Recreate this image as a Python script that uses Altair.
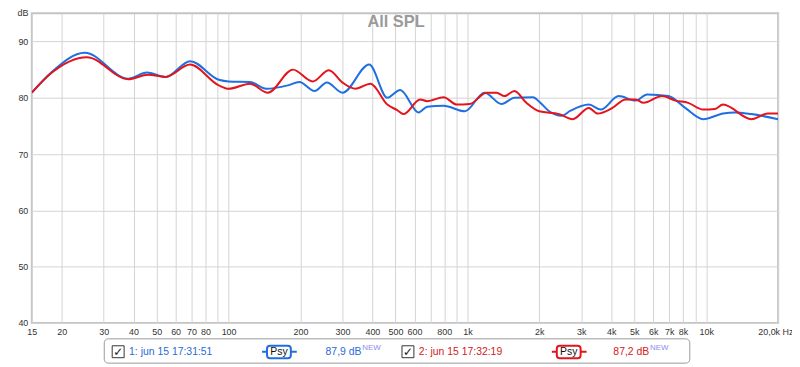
import altair as alt
import pandas as pd

# ---- data ----
blue_freq = [15, 18, 25, 38, 45.5, 54.5, 69, 91, 100, 123, 144, 177, 198, 229, 258, 300, 388, 462, 523, 625, 678,
             795, 975, 1180, 1389, 1574, 1883, 2000, 2200, 2480, 2700, 3227, 3620, 4302, 5062, 5661, 6941, 8168,
             9704, 11751, 13184, 15465, 20000]
blue_db = [80.9, 84.4, 88.0, 83.4, 84.5, 83.7, 86.5, 83.2, 82.9, 82.8, 81.6, 82.2, 82.8, 81.2, 82.7, 80.9, 85.9,
           80.0, 81.4, 77.4, 78.4, 78.6, 77.6, 80.9, 78.9, 80.0, 80.1, 79.3, 77.6, 76.8, 77.7, 78.8, 77.9, 80.3,
           79.5, 80.6, 80.3, 78.2, 76.2, 77.2, 77.4, 77.1, 76.2]

red_freq = [15, 18, 25.5, 38, 46, 54.5, 69, 91, 100, 123, 146, 186, 225, 263, 300, 340, 393, 462, 508, 540, 634,
            678, 795, 903, 1023, 1204, 1324, 1430, 1574, 1766, 2000, 2421, 2761, 3227, 3507, 4049, 4599, 5062,
            5463, 6534, 7422, 8405, 9704, 10884, 11751, 15465, 18076, 20000]
red_db = [80.9, 84.3, 87.2, 83.3, 84.1, 83.7, 85.9, 82.2, 81.6, 82.5, 80.9, 85.0, 82.9, 84.9, 82.7, 81.6, 82.5,
          78.8, 77.8, 77.1, 79.7, 79.4, 80.1, 78.8, 78.9, 80.9, 80.9, 80.3, 81.2, 79.1, 77.6, 77.1, 76.2, 78.2,
          77.2, 78.2, 79.7, 79.7, 79.1, 80.3, 79.5, 79.1, 77.9, 78.0, 78.8, 76.2, 77.2, 77.2]

series_names = ["1: jun 15 17:31:51", "2: jun 15 17:32:19"]
series_colors = ["#1f6fe0", "#e3141c"]
legend_text_colors = ["#2a6ad8", "#d42020"]
legend_levels = ["87,9 dB", "87,2 dB"]

x_grid = [15, 20, 30, 40, 50, 60, 70, 80, 90, 100, 200, 300, 400, 500, 600, 700, 800, 900,
          1000, 2000, 3000, 4000, 5000, 6000, 7000, 8000, 9000, 10000, 20000]
x_unlabeled = [90, 700, 900, 9000, 20000]
x_last_label = "20,0k Hz"
y_ticks = [40, 50, 60, 70, 80, 90]

df = pd.concat([
    pd.DataFrame({"freq": blue_freq, "db": blue_db, "series": series_names[0], "order": 0}),
    pd.DataFrame({"freq": red_freq, "db": red_db, "series": series_names[1], "order": 1}),
])

FONT = "Liberation Sans"
one = pd.DataFrame({"a": [0]})

x_scale = alt.Scale(type="log", domain=[15, 20000], nice=False)
y_scale = alt.Scale(domain=[40, 95], nice=False, zero=False)

label_expr = ("indexof([" + ",".join(str(v) for v in x_unlabeled) +
              "], datum.value) >= 0 ? '' : datum.value >= 1000 ? (datum.value/1000) + 'k' : datum.value + ''")

lines = alt.Chart(df).mark_line(strokeWidth=2, interpolate="monotone", clip=True).encode(
    x=alt.X("freq:Q", scale=x_scale, axis=alt.Axis(
        values=x_grid, labelExpr=label_expr, title=None, grid=True, ticks=False, domain=False,
        labelOverlap=False, labelBound=False, labelFlush=False, labelPadding=5,
        labelFontSize=9, labelColor="#333333", labelFont=FONT,
        gridColor="#d4d4d4", gridWidth=1)),
    y=alt.Y("db:Q", scale=y_scale, axis=alt.Axis(
        values=y_ticks, title=None, grid=True, ticks=False, domain=False, labelPadding=4,
        labelFontSize=9, labelColor="#333333", labelFont=FONT,
        gridColor="#d4d4d4", gridWidth=1)),
    color=alt.Color("series:N", scale=alt.Scale(domain=series_names, range=series_colors), legend=None),
    detail="series:N",
    order="order:Q",
)

title = alt.Chart(one).mark_text(text="All SPL", font=FONT, fontSize=16.5, fontWeight="bold",
                                 color="#9a9a9a", align="center", baseline="middle").encode(
    x=alt.value(367), y=alt.value(9))
db_label = alt.Chart(one).mark_text(text="dB", font=FONT, fontSize=9, color="#333333",
                                    align="center", baseline="top").encode(
    x=alt.value(-9), y=alt.value(-4))
last_label = alt.Chart(one).mark_text(text=x_last_label, font=FONT, fontSize=9, color="#333333",
                                      align="left", baseline="top").encode(
    x=alt.value(732), y=alt.value(317))

# legend box
box = alt.Chart(one).mark_rect(fill="white", stroke="#9a9a9a", strokeWidth=1, cornerRadius=4).encode(
    x=alt.value(73), x2=alt.value(663), y=alt.value(328), y2=alt.value(352.5))

layers = [lines, title, db_label, last_label, box]

legend_x = [81, 373]          # checkbox left
legend_badge = [237, 529]     # badge left
legend_level_x = [296, 586]
legend_new_x = [333, 623]
for i in range(2):
    cx = legend_x[i]
    layers.append(alt.Chart(one).mark_rect(fill="white", stroke="#333333", strokeWidth=1).encode(
        x=alt.value(cx), x2=alt.value(cx + 12), y=alt.value(335), y2=alt.value(347)))
    layers.append(alt.Chart(one).mark_text(text="✓", font="DejaVu Sans", fontSize=12, color="#222222",
                                           align="center", baseline="middle").encode(
        x=alt.value(cx + 6), y=alt.value(341.5)))
    layers.append(alt.Chart(one).mark_text(text=series_names[i], font=FONT, fontSize=10.5,
                                           color=legend_text_colors[i], align="left", baseline="middle").encode(
        x=alt.value(cx + 17), y=alt.value(341)))
    bx = legend_badge[i]
    layers.append(alt.Chart(one).mark_rule(color=series_colors[i], strokeWidth=2).encode(
        x=alt.value(bx - 5), x2=alt.value(bx + 30), y=alt.value(341)))
    layers.append(alt.Chart(one).mark_rect(fill="white", stroke=series_colors[i], strokeWidth=2,
                                           cornerRadius=3).encode(
        x=alt.value(bx), x2=alt.value(bx + 24), y=alt.value(335), y2=alt.value(347.5)))
    layers.append(alt.Chart(one).mark_text(text="Psy", font=FONT, fontSize=10.5, color="#111111",
                                           align="center", baseline="middle").encode(
        x=alt.value(bx + 12), y=alt.value(341.5)))
    layers.append(alt.Chart(one).mark_text(text=legend_levels[i], font=FONT, fontSize=10.5,
                                           color=legend_text_colors[i], align="left", baseline="middle").encode(
        x=alt.value(legend_level_x[i]), y=alt.value(341)))
    layers.append(alt.Chart(one).mark_text(text="NEW", font=FONT, fontSize=8, color="#8c8cf0",
                                           align="left", baseline="middle").encode(
        x=alt.value(legend_new_x[i]), y=alt.value(337)))

chart = alt.layer(*layers).properties(
    width=752, height=312,
    autosize=alt.AutoSizeParams(type="none"),
    padding={"left": 24, "top": 4, "right": 14, "bottom": 42},
    background="white",
).configure_view(stroke="#c4c4c4", strokeWidth=2)

chart.save("out.html", embed_options={"renderer": "svg", "actions": False})
